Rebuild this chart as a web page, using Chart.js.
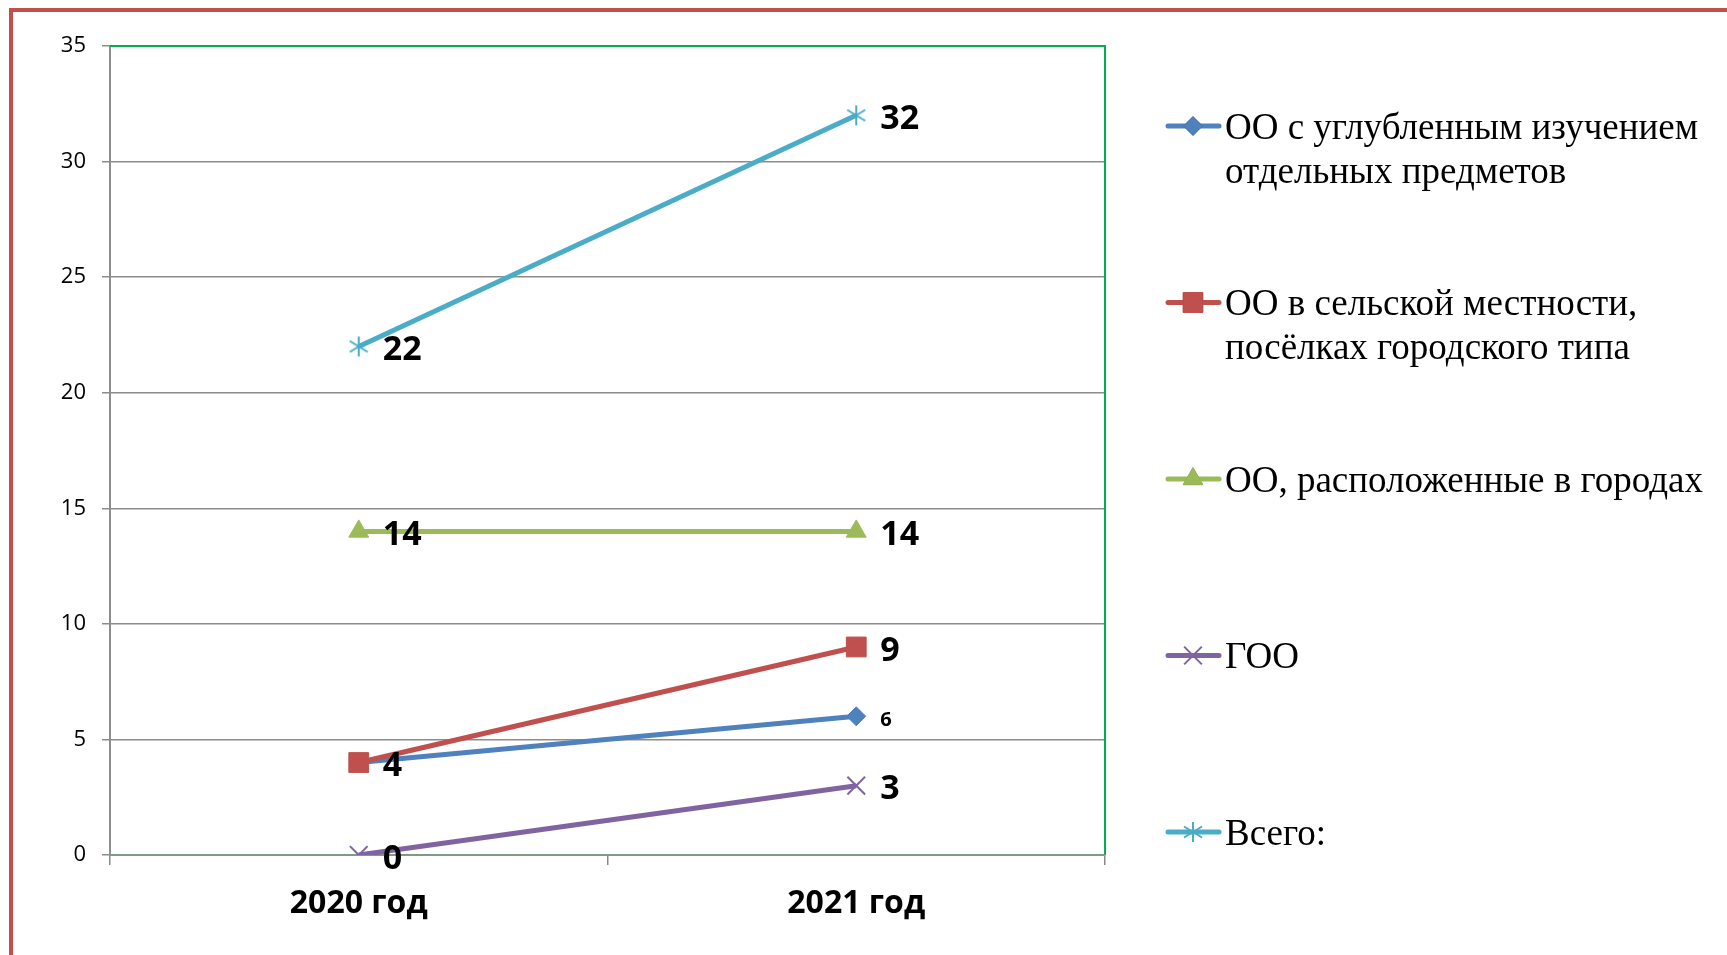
<!DOCTYPE html>
<html>
<head>
<meta charset="utf-8">
<script src="https://cdn.jsdelivr.net/npm/chart.js@4"></script>
<style>
  html, body { margin: 0; padding: 0; background: #fff; overflow: hidden; }
  #wrap { position: relative; width: 1727px; height: 955px; }
  #frame { position: absolute; left: 9px; top: 8px; right: 0; bottom: 0;
           border-left: 4px solid #c0504d; border-top: 4px solid #c0504d; }
  canvas { position: absolute; left: 0; top: 0; }
</style>
</head>
<body>
<div id="wrap">
  <div id="frame"></div>
  <canvas id="grafico" width="1727" height="955"></canvas>
</div>
<script>
const anos = ["2020 год", "2021 год"];

const uglublennye = [4, 6];
const selskie = [4, 9];
const gorodskie = [14, 14];
const goo = [0, 3];
const vsego = [22, 32];

const nazvaniya = [
  "ОО с углубленным изучением отдельных предметов",
  "ОО в сельской местности, посёлках городского типа",
  "ОО, расположенные в городах",
  "ГОО",
  "Всего:"
];

const yMin = 0, yMax = 35, yPasso = 5;

// asterisco do Excel (linha vertical + X)
function asterisco(cor) {
  const c = document.createElement("canvas");
  c.width = 24; c.height = 24;
  const g = c.getContext("2d");
  g.strokeStyle = cor;
  g.lineWidth = 2;
  g.beginPath();
  g.moveTo(12, 2); g.lineTo(12, 22);
  g.moveTo(3, 6.5); g.lineTo(21, 17.5);
  g.moveTo(21, 6.5); g.lineTo(3, 17.5);
  g.stroke();
  return c;
}

const cores = ["#4f81bd", "#c0504d", "#9bbb59", "#8064a2", "#4bacc6"];
const estilos = ["rectRot", "rect", "triangle", "crossRot", asterisco("#4bacc6")];
const raios = [9.5, 14, 11.5, 12.5, 12];
const tamanhosRotulo = [20, 34, 34, 34, 34];

const valores = [uglublennye, selskie, gorodskie, goo, vsego];

const datasets = valores.map((v, i) => ({
  label: nazvaniya[i],
  data: v,
  order: valores.length - i,
  borderColor: cores[i],
  backgroundColor: cores[i],
  pointBackgroundColor: cores[i],
  pointBorderColor: cores[i],
  pointStyle: estilos[i],
  pointRadius: raios[i],
  pointBorderWidth: (i === 3) ? 2 : 1,
  borderWidth: 5,
  tension: 0,
  fill: false
}));

const moldura = {
  id: "moldura",
  beforeDatasetsDraw(chart) {
    const { ctx, chartArea: a } = chart;
    ctx.save();
    ctx.strokeStyle = "#00b050";
    ctx.lineWidth = 2;
    ctx.beginPath();
    ctx.moveTo(a.left, a.top);
    ctx.lineTo(a.right, a.top);
    ctx.lineTo(a.right, a.bottom);
    ctx.stroke();
    ctx.strokeStyle = "#7f9a87";
    ctx.beginPath();
    ctx.moveTo(a.left, a.bottom);
    ctx.lineTo(a.right, a.bottom);
    ctx.stroke();
    ctx.restore();
  }
};

const rotulos = {
  id: "rotulos",
  afterDatasetsDraw(chart) {
    const ctx = chart.ctx;
    ctx.save();
    ctx.fillStyle = "#000";
    ctx.textAlign = "left";
    ctx.textBaseline = "middle";
    chart.data.datasets.forEach((ds, i) => {
      const meta = chart.getDatasetMeta(i);
      meta.data.forEach((pt, j) => {
        // se outra série posterior tem o mesmo valor no mesmo ponto, ela cobre este rótulo
        const coberto = chart.data.datasets.some((o, k) => k > i && o.data[j] === ds.data[j]);
        if (coberto) return;
        ctx.font = "bold " + tamanhosRotulo[i] + "px 'Open Sans'";
        ctx.fillText(String(ds.data[j]), pt.x + 24, pt.y + 4);
      });
    });
    ctx.restore();
  }
};

const legenda = {
  id: "legenda",
  afterDraw(chart) {
    const ctx = chart.ctx;
    const h = Chart.helpers;
    ctx.save();
    chart.data.datasets.forEach((ds, i) => {
      const y = 126 + i * 176.5;
      ctx.strokeStyle = ds.borderColor;
      ctx.lineWidth = 5;
      ctx.lineCap = "round";
      ctx.beginPath();
      ctx.moveTo(1168, y);
      ctx.lineTo(1219, y);
      ctx.stroke();
      ctx.lineCap = "butt";
      ctx.lineWidth = ds.pointBorderWidth;
      h.drawPoint(ctx, {
        pointStyle: ds.pointStyle,
        radius: ds.pointRadius,
        borderWidth: ds.pointBorderWidth,
        rotation: 0
      }, 1193, y);
      if (ds.pointStyle !== "crossRot" && typeof ds.pointStyle === "string") {
        ctx.fillStyle = ds.backgroundColor;
        ctx.fill();
      }

      ctx.fillStyle = "#000";
      ctx.font = "37px 'Liberation Serif'";
      ctx.textAlign = "left";
      ctx.textBaseline = "middle";
      const palavras = ds.label.split(" ");
      const linhas = [];
      let atual = "";
      palavras.forEach(p => {
        const teste = atual ? atual + " " + p : p;
        if (ctx.measureText(teste).width > 500 && atual) {
          linhas.push(atual);
          atual = p;
        } else {
          atual = teste;
        }
      });
      linhas.push(atual);
      linhas.forEach((l, n) => ctx.fillText(l, 1225, y + 3 + n * 44));
    });
    ctx.restore();
  }
};

new Chart(document.getElementById("grafico"), {
  type: "line",
  data: { labels: anos, datasets },
  plugins: [moldura, rotulos, legenda],
  options: {
    responsive: false,
    devicePixelRatio: 1,
    animation: false,
    layout: { padding: { top: 46, right: 622, bottom: 0, left: 0 } },
    plugins: {
      legend: { display: false },
      tooltip: { enabled: false }
    },
    scales: {
      x: {
        offset: true,
        afterFit: s => { s.height = 100; },
        grid: {
          offset: true,
          drawOnChartArea: false,
          color: "#8a8a8a",
          lineWidth: 1.5,
          tickLength: 10
        },
        border: { display: false },
        ticks: {
          color: "#000",
          padding: 20,
          font: { family: "'Open Sans'", size: 32, weight: "bold" }
        }
      },
      y: {
        min: yMin,
        max: yMax,
        afterFit: s => { s.width = 110; },
        grid: {
          color: "#8c8c8c",
          lineWidth: 1.5,
          tickLength: 8
        },
        border: { color: "#8a8f8a", width: 2 },
        ticks: {
          stepSize: yPasso,
          color: "#000",
          padding: 16,
          font: { family: "'Open Sans'", size: 22 }
        }
      }
    }
  }
});
</script>
</body>
</html>
